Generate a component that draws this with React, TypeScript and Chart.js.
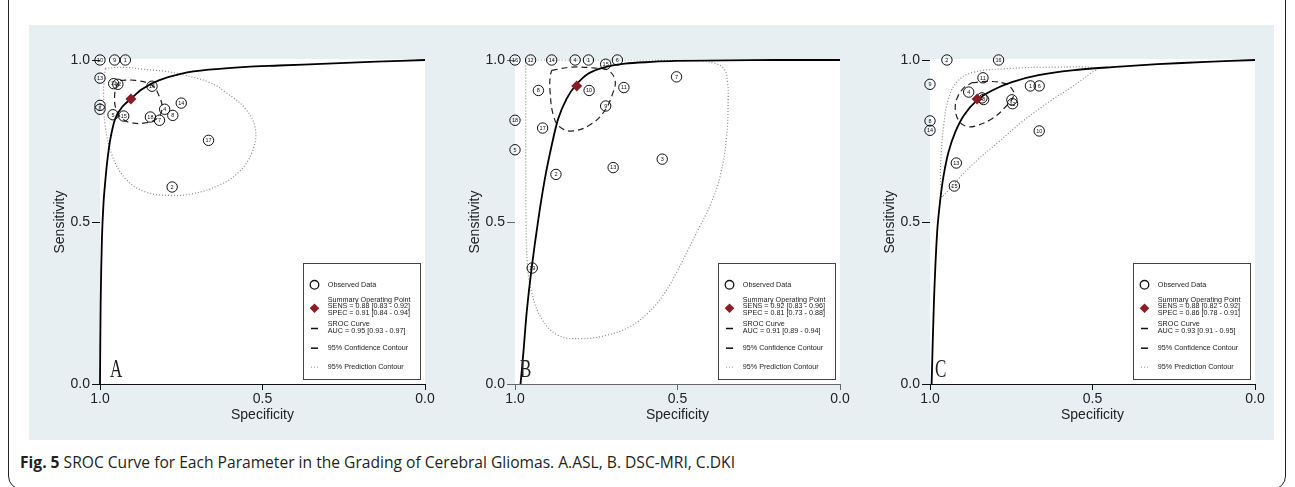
import React, { useEffect, useRef } from 'react';
import { Chart, registerables } from 'chart.js';
Chart.register(...registerables);

// ---------- Panel A (ASL) ----------
const aStudyLabels = ['10', '9', '1', '13', '11', '12', '16', '3', '6', '14', '4', '8', '7', '18', '5', '15', '17', '2'];
const aStudySpec = [1.0, 0.955, 0.922, 1.0, 0.958, 0.945, 0.84, 1.0, 1.0, 0.75, 0.801, 0.776, 0.817, 0.845, 0.96, 0.927, 0.666, 0.778];
const aStudySens = [1.0, 1.0, 1.0, 0.944, 0.927, 0.925, 0.919, 0.86, 0.848, 0.867, 0.848, 0.829, 0.814, 0.824, 0.831, 0.827, 0.752, 0.608];
const aSummarySpec = [0.905];
const aSummarySens = [0.88];
const aSrocSpec = [1.0, 0.998, 0.994, 0.989, 0.984, 0.978, 0.968, 0.953, 0.932, 0.904, 0.871, 0.819, 0.748, 0.666, 0.55, 0.45, 0.3, 0.15, 0.0];
const aSrocSens = [0.0, 0.25, 0.45, 0.562, 0.623, 0.685, 0.757, 0.819, 0.855, 0.881, 0.91, 0.937, 0.958, 0.97, 0.979, 0.983, 0.989, 0.995, 1.0];
const aConfSpec = [0.938, 0.891, 0.84, 0.819, 0.809, 0.825, 0.861, 0.902, 0.932, 0.951, 0.955, 0.948, 0.938];
const aConfSens = [0.937, 0.937, 0.922, 0.891, 0.85, 0.819, 0.806, 0.806, 0.819, 0.85, 0.891, 0.922, 0.937];
const aPredSpec = [0.984, 0.922, 0.871, 0.8, 0.748, 0.666, 0.614, 0.553, 0.522, 0.532, 0.573, 0.635, 0.717, 0.789, 0.861, 0.922, 0.963, 0.984, 0.989, 0.984];
const aPredSens = [0.975, 0.977, 0.972, 0.965, 0.955, 0.932, 0.901, 0.85, 0.788, 0.716, 0.654, 0.613, 0.587, 0.582, 0.593, 0.634, 0.706, 0.798, 0.901, 0.975];
const aLegendText = ['SENS = 0.88 [0.83 - 0.92]', 'SPEC = 0.91 [0.84 - 0.94]', 'AUC = 0.95 [0.93 - 0.97]'];

// ---------- Panel B (DSC-MRI) ----------
const bStudyLabels = ['16', '12', '14', '4', '1', '6', '15', '7', '8', '10', '11', '9', '18', '17', '5', '3', '13', '2', '19'];
const bStudySpec = [1.0, 0.952, 0.887, 0.815, 0.774, 0.685, 0.721, 0.503, 0.928, 0.772, 0.665, 0.721, 1.0, 0.915, 1.0, 0.547, 0.698, 0.874, 0.947];
const bStudySens = [1.0, 1.0, 1.0, 1.0, 1.0, 1.0, 0.987, 0.948, 0.906, 0.906, 0.915, 0.858, 0.814, 0.79, 0.723, 0.694, 0.668, 0.647, 0.358];
const bSummarySpec = [0.81];
const bSummarySens = [0.92];
const bSrocSpec = [0.983, 0.974, 0.964, 0.949, 0.928, 0.908, 0.887, 0.867, 0.841, 0.813, 0.774, 0.723, 0.662, 0.58, 0.508, 0.35, 0.2, 0.0];
const bSrocSens = [0.0, 0.099, 0.222, 0.356, 0.51, 0.634, 0.737, 0.819, 0.881, 0.922, 0.958, 0.978, 0.989, 0.994, 0.997, 0.999, 1.0, 1.0];
const bConfSpec = [0.887, 0.826, 0.754, 0.713, 0.692, 0.698, 0.723, 0.764, 0.821, 0.862, 0.882, 0.892, 0.892, 0.887];
const bConfSens = [0.968, 0.978, 0.975, 0.968, 0.937, 0.901, 0.845, 0.803, 0.781, 0.793, 0.829, 0.901, 0.948, 0.968];
const bPredSpec = [0.967, 0.8, 0.6, 0.45, 0.385, 0.355, 0.346, 0.344, 0.349, 0.369, 0.4, 0.432, 0.466, 0.5, 0.54, 0.59, 0.65, 0.72, 0.795, 0.867, 0.918, 0.949, 0.962, 0.966, 0.967, 0.967, 0.967];
const bPredSens = [1.0, 1.0, 1.0, 0.998, 0.99, 0.97, 0.93, 0.887, 0.763, 0.64, 0.55, 0.485, 0.417, 0.35, 0.28, 0.22, 0.175, 0.15, 0.14, 0.15, 0.202, 0.284, 0.37, 0.5, 0.7, 0.85, 1.0];
const bLegendText = ['SENS = 0.92 [0.83 - 0.96]', 'SPEC = 0.81 [0.73 - 0.88]', 'AUC = 0.91 [0.89 - 0.94]'];

// ---------- Panel C (DKI) ----------
const cStudyLabels = ['2', '16', '9', '11', '4', '1', '6', '5', '3', '7', '12', '8', '14', '10', '13', '15'];
const cStudySpec = [0.948, 0.789, 1.0, 0.837, 0.881, 0.691, 0.664, 0.84, 0.835, 0.748, 0.746, 1.0, 1.0, 0.664, 0.919, 0.925];
const cStudySens = [1.0, 1.0, 0.925, 0.945, 0.901, 0.92, 0.92, 0.883, 0.878, 0.877, 0.865, 0.812, 0.783, 0.781, 0.682, 0.611];
const cSummarySpec = [0.855];
const cSummarySens = [0.88];
const cSrocSpec = [0.995, 0.988, 0.978, 0.968, 0.958, 0.943, 0.922, 0.896, 0.855, 0.809, 0.748, 0.666, 0.563, 0.44, 0.3, 0.15, 0.0];
const cSrocSens = [0.0, 0.25, 0.469, 0.572, 0.644, 0.716, 0.778, 0.829, 0.876, 0.906, 0.932, 0.953, 0.968, 0.978, 0.987, 0.994, 1.0];
const cConfSpec = [0.871, 0.819, 0.768, 0.748, 0.742, 0.768, 0.809, 0.861, 0.891, 0.912, 0.922, 0.917, 0.896, 0.871];
const cConfSens = [0.93, 0.934, 0.927, 0.911, 0.891, 0.855, 0.819, 0.796, 0.796, 0.814, 0.845, 0.881, 0.914, 0.93];
const cPredSpec = [0.963, 0.968, 0.965, 0.958, 0.943, 0.917, 0.871, 0.768, 0.614, 0.486, 0.507, 0.563, 0.635, 0.717, 0.789, 0.85, 0.902, 0.943, 0.963];
const cPredSens = [0.577, 0.634, 0.716, 0.798, 0.881, 0.932, 0.961, 0.973, 0.978, 0.975, 0.958, 0.917, 0.87, 0.809, 0.747, 0.695, 0.644, 0.598, 0.577];
const cLegendText = ['SENS = 0.88 [0.82 - 0.92]', 'SPEC = 0.86 [0.78 - 0.91]', 'AUC = 0.93 [0.91 - 0.95]'];

const axisTicks = [0, 0.5, 1];
const captionBold = 'Fig. 5';
const captionText = ' SROC Curve for Each Parameter in the Grading of Cerebral Gliomas. A.ASL, B. DSC-MRI, C.DKI';

const FONT = 'Liberation Sans, Arial, sans-serif';
const SUMMARY_COLOR = '#8B1C26';

type PanelProps = {
  left: number;
  letter: string;
  letterOffset: number;
  axisColor: string;
  labels: string[];
  studySpec: number[];
  studySens: number[];
  sumSpec: number[];
  sumSens: number[];
  srocSpec: number[];
  srocSens: number[];
  confSpec: number[];
  confSens: number[];
  predSpec: number[];
  predSens: number[];
  legend: string[];
};

const pts = (xs: number[], ys: number[]) => xs.map((x, i) => ({ x, y: ys[i] }));

function Panel(p: PanelProps) {
  const ref = useRef<HTMLCanvasElement>(null);
  useEffect(() => {
    const panelPlugin = {
      id: 'panelDeco',
      beforeDatasetsDraw(chart: any) {
        const { ctx, chartArea } = chart;
        ctx.save();
        ctx.fillStyle = '#ffffff';
        ctx.fillRect(chartArea.left, chartArea.top - 1, chartArea.right - chartArea.left, chartArea.bottom - chartArea.top + 1);
        ctx.restore();
      },
      afterDatasetsDraw(chart: any) {
        const { ctx, chartArea } = chart;
        // study numbers inside circles
        const meta = chart.getDatasetMeta(1);
        ctx.save();
        ctx.fillStyle = '#111';
        ctx.font = `5.5px ${FONT}`;
        ctx.textAlign = 'center';
        ctx.textBaseline = 'middle';
        meta.data.forEach((el: any, i: number) => {
          ctx.fillText(p.labels[i], el.x, el.y + 0.3);
        });
        ctx.restore();

        // panel letter
        ctx.save();
        ctx.fillStyle = '#222';
        ctx.font = `25px Liberation Serif, serif`;
        ctx.translate(chartArea.left + p.letterOffset, chartArea.bottom - 7);
        ctx.scale(0.68, 1);
        ctx.textBaseline = 'alphabetic';
        ctx.textAlign = 'left';
        ctx.fillText(p.letter, 0, 0);
        ctx.restore();

        // legend box
        const bw = 117, bh = 116;
        const bx = Math.round(chartArea.right - 122) + 0.5;
        const by = Math.round(chartArea.bottom - 121) + 0.5;
        ctx.save();
        ctx.fillStyle = '#ffffff';
        ctx.fillRect(bx, by, bw, bh);
        ctx.strokeStyle = '#444';
        ctx.lineWidth = 1;
        ctx.strokeRect(bx, by, bw, bh);
        const sx = bx + 11;
        const tx = bx + 24.3;
        ctx.fillStyle = '#222';
        ctx.font = `7.2px ${FONT}`;
        ctx.textBaseline = 'middle';
        ctx.textAlign = 'left';
        // observed
        ctx.beginPath();
        ctx.strokeStyle = '#111';
        ctx.lineWidth = 1.3;
        ctx.arc(sx, by + 21.3, 4.3, 0, Math.PI * 2);
        ctx.stroke();
        ctx.fillText('Observed Data', tx, by + 21.3);
        // summary
        ctx.fillText('Summary Operating Point', tx, by + 36.3);
        ctx.fillText(p.legend[0], tx, by + 43);
        ctx.fillText(p.legend[1], tx, by + 49.7);
        ctx.beginPath();
        ctx.fillStyle = SUMMARY_COLOR;
        const dy = by + 44.7, dr = 4.8;
        ctx.moveTo(sx, dy - dr);
        ctx.lineTo(sx + dr, dy);
        ctx.lineTo(sx, dy + dr);
        ctx.lineTo(sx - dr, dy);
        ctx.closePath();
        ctx.fill();
        ctx.fillStyle = '#222';
        // sroc
        ctx.fillText('SROC Curve', tx, by + 60.3);
        ctx.fillText(p.legend[2], tx, by + 67.5);
        ctx.strokeStyle = '#111';
        ctx.lineWidth = 1.5;
        ctx.beginPath();
        ctx.moveTo(sx - 3.5, by + 65);
        ctx.lineTo(sx + 3.5, by + 65);
        ctx.stroke();
        // confidence
        ctx.fillText('95% Confidence Contour', tx, by + 84.7);
        ctx.beginPath();
        ctx.moveTo(sx - 3.5, by + 84.7);
        ctx.lineTo(sx + 3.5, by + 84.7);
        ctx.stroke();
        // prediction
        ctx.fillText('95% Prediction Contour', tx, by + 103.7);
        ctx.fillStyle = '#999';
        for (let k = -3; k <= 3; k += 3) {
          ctx.fillRect(sx + k - 0.5, by + 103.2, 1, 1);
        }
        ctx.restore();
      },
    };

    const tickFont = { family: FONT, size: 14 };
    const chart = new Chart(ref.current as HTMLCanvasElement, {
      type: 'scatter',
      data: {
        datasets: [
          {
            label: 'Summary Operating Point',
            data: pts(p.sumSpec, p.sumSens),
            pointStyle: 'rectRot',
            pointRadius: 5.5,
            backgroundColor: SUMMARY_COLOR,
            borderColor: SUMMARY_COLOR,
            borderWidth: 0,
            showLine: false,
            clip: false,
          },
          {
            label: 'Observed Data',
            data: pts(p.studySpec, p.studySens),
            pointStyle: 'circle',
            pointRadius: 5.2,
            backgroundColor: 'rgba(0,0,0,0)',
            borderColor: '#111',
            borderWidth: 1,
            showLine: false,
            clip: false,
          },
          {
            label: 'SROC Curve',
            data: pts(p.srocSpec, p.srocSens),
            showLine: true,
            pointRadius: 0,
            borderColor: '#000',
            borderWidth: 1.8,
            tension: 0.3,
            clip: 4,
          },
          {
            label: '95% Confidence Contour',
            data: pts(p.confSpec, p.confSens),
            showLine: true,
            pointRadius: 0,
            borderColor: '#222',
            borderWidth: 1.2,
            borderDash: [6, 4],
            tension: 0.4,
            clip: 4,
          },
          {
            label: '95% Prediction Contour',
            data: pts(p.predSpec, p.predSens),
            showLine: true,
            pointRadius: 0,
            borderColor: '#8a8a8a',
            borderWidth: 1.2,
            borderDash: [1, 2],
            tension: 0.4,
            clip: 4,
          },
        ] as any,
      },
      options: {
        animation: false,
        responsive: false,
        devicePixelRatio: 1,
        events: [],
        layout: { padding: { left: 0, top: 35, right: 15, bottom: 0 } },
        plugins: { legend: { display: false }, tooltip: { enabled: false } },
        scales: {
          x: {
            type: 'linear',
            reverse: true,
            min: 0,
            max: 1,
            afterFit: (s: any) => { s.height = 56; },
            afterBuildTicks: (s: any) => { s.ticks = axisTicks.map((v) => ({ value: v })); },
            ticks: {
              callback: (v: any) => Number(v).toFixed(1),
              font: tickFont,
              color: '#222',
              padding: 1,
              maxRotation: 0,
              autoSkip: false,
            },
            grid: { drawOnChartArea: false, drawTicks: true, tickLength: 6, color: p.axisColor, tickWidth: 1 },
            border: { display: true, color: p.axisColor, width: 1 },
            title: { display: true, text: 'Specificity', font: tickFont, color: '#222', padding: { top: 0, bottom: 16.5 } },
          },
          y: {
            type: 'linear',
            min: 0,
            max: 1,
            afterFit: (s: any) => { s.width = 70; },
            afterBuildTicks: (s: any) => { s.ticks = axisTicks.map((v) => ({ value: v })); },
            ticks: {
              callback: (v: any) => Number(v).toFixed(1),
              font: tickFont,
              color: '#222',
              padding: 2,
              autoSkip: false,
            },
            grid: { drawOnChartArea: false, drawTicks: true, tickLength: 8, color: p.axisColor, tickWidth: 1 },
            border: { display: true, color: p.axisColor, width: 1 },
            title: { display: true, text: 'Sensitivity', font: tickFont, color: '#222', padding: { top: 21.6, bottom: 0 } },
          },
        },
      } as any,
      plugins: [panelPlugin],
    });
    return () => chart.destroy();
  }, []);
  return (
    <canvas
      ref={ref}
      width={410}
      height={415}
      style={{ position: 'absolute', left: p.left, top: 25, width: 410, height: 415 }}
    />
  );
}

export default function App() {
  return (
    <div style={{ position: 'absolute', left: 0, top: 0, width: 1295, height: 487, overflow: 'hidden', background: '#fff' }}>
      <div
        style={{
          position: 'absolute',
          left: 8,
          top: -30,
          width: 1278,
          height: 520,
          border: '1.5px solid #222',
          borderRadius: 14,
          boxSizing: 'border-box',
        }}
      />
      <div style={{ position: 'absolute', left: 29, top: 25, width: 1245, height: 415, background: '#E8EFF2' }} />
      <Panel
        left={30}
        letter="A"
        letterOffset={10}
        axisColor="#111"
        labels={aStudyLabels}
        studySpec={aStudySpec}
        studySens={aStudySens}
        sumSpec={aSummarySpec}
        sumSens={aSummarySens}
        srocSpec={aSrocSpec}
        srocSens={aSrocSens}
        confSpec={aConfSpec}
        confSens={aConfSens}
        predSpec={aPredSpec}
        predSens={aPredSens}
        legend={aLegendText}
      />
      <Panel
        left={445}
        letter="B"
        letterOffset={5}
        axisColor="#666"
        labels={bStudyLabels}
        studySpec={bStudySpec}
        studySens={bStudySens}
        sumSpec={bSummarySpec}
        sumSens={bSummarySens}
        srocSpec={bSrocSpec}
        srocSens={bSrocSens}
        confSpec={bConfSpec}
        confSens={bConfSens}
        predSpec={bPredSpec}
        predSens={bPredSens}
        legend={bLegendText}
      />
      <Panel
        left={860}
        letter="C"
        letterOffset={5}
        axisColor="#111"
        labels={cStudyLabels}
        studySpec={cStudySpec}
        studySens={cStudySens}
        sumSpec={cSummarySpec}
        sumSens={cSummarySens}
        srocSpec={cSrocSpec}
        srocSens={cSrocSens}
        confSpec={cConfSpec}
        confSens={cConfSens}
        predSpec={cPredSpec}
        predSens={cPredSens}
        legend={cLegendText}
      />
      <div
        style={{
          position: 'absolute',
          left: 20,
          top: 451,
          fontFamily: 'Open Sans, sans-serif',
          fontSize: 15.6,
          lineHeight: '22px',
          color: '#231F20',
          whiteSpace: 'nowrap',
        }}
      >
        <b>{captionBold}</b>
        {captionText}
      </div>
    </div>
  );
}
